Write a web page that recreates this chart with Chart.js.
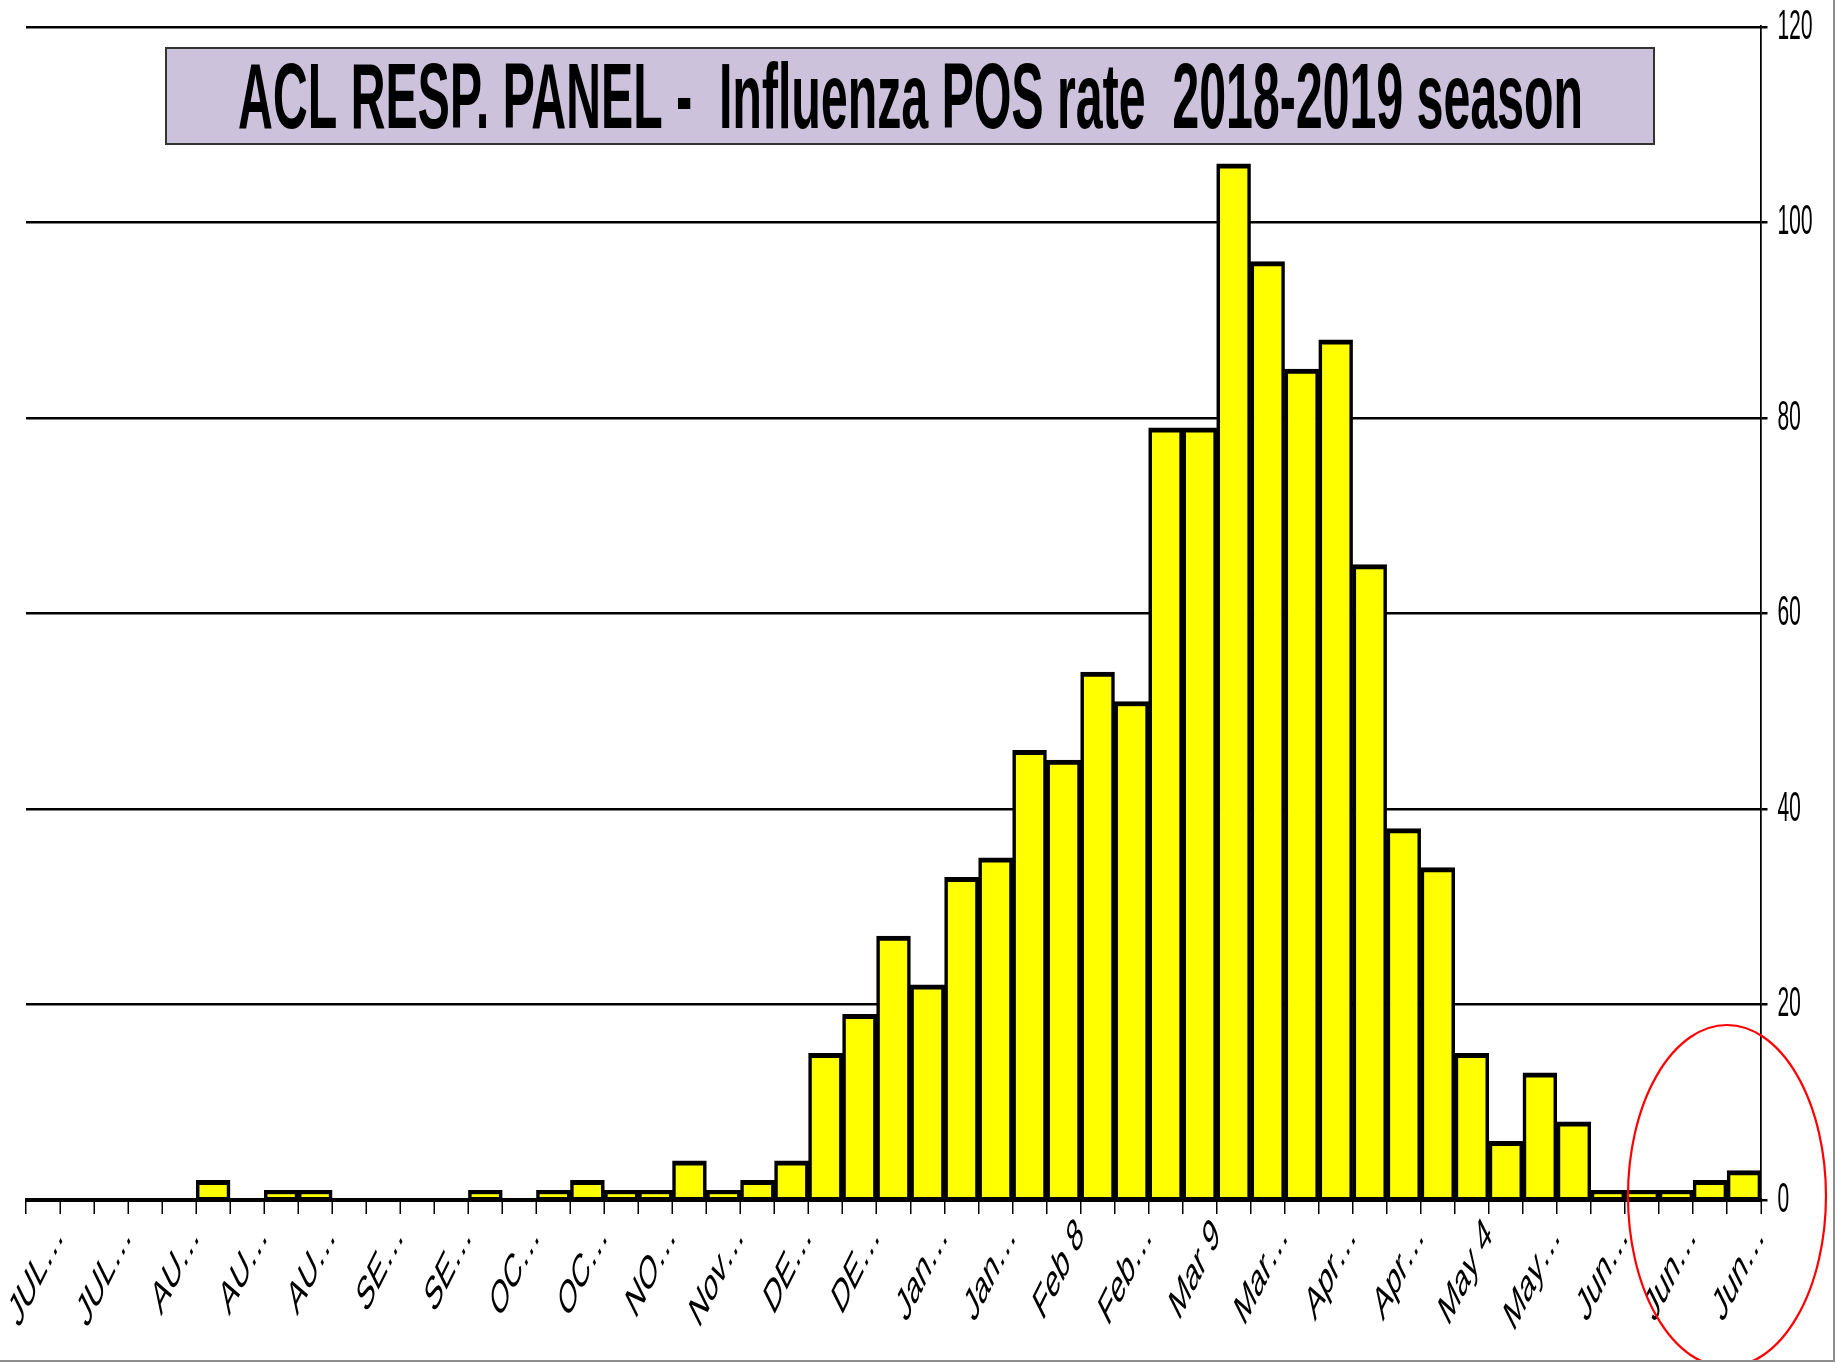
<!DOCTYPE html>
<html>
<head>
<meta charset="utf-8">
<script src="https://cdn.jsdelivr.net/npm/chart.js@4.4.1/dist/chart.umd.min.js"></script>
<style>
  html, body { margin: 0; padding: 0; background: #fff; overflow: hidden; }
  #wrap { position: relative; width: 1835px; height: 1362px; overflow: hidden; }
  #squeeze { position: absolute; left: 0; top: 0; width: 3670px; height: 1362px;
             transform: scaleX(0.5); transform-origin: 0 0; }
  #frame { position: absolute; left: 0; top: 0; width: 1835px; height: 1362px; box-sizing: border-box;
           border-right: 2px solid #8e8e8e; border-bottom: 2px solid #8e8e8e; pointer-events: none; }
</style>
</head>
<body>
<div id="wrap">
  <div id="squeeze"><canvas id="graph" width="3670" height="1362"></canvas></div>
  <div id="frame"></div>
</div>
<script>
// weekly categories, only every other one carries a label
var weekLabels = ['JUL…','','JUL…','','AU…','','AU…','','AU…','','SE…','','SE…','',
    'OC…','','OC…','','NO…','','Nov…','','DE…','','DE…','','Jan…','','Jan…','',
    'Feb 8','','Feb…','','Mar 9','','Mar…','','Apr…','','Apr…','','May 4','',
    'May…','','Jun…','','Jun…','','Jun…'];

var fluPos = [0,0,0,0,0,2,0,1,1,0,0,0,0,1,0,1,2,1,1,4,1,2,4,15,19,27,22,33,35,
    46,45,54,51,79,79,106,96,85,88,65,38,34,15,6,13,8,1,1,1,2,3];

var yTicks = [0, 20, 40, 60, 80, 100, 120];

var chartTitle = 'ACL RESP. PANEL -  Influenza POS rate  2018-2019 season';

// the original picture is squeezed horizontally, so draw wide and squeeze
var K = 0.5;
var FONT = '"Liberation Sans", Arial, sans-serif';

var overlay = {
    id: 'overlay',
    afterDraw: function (chart) {
        var ctx = chart.ctx;
        var xs = chart.scales.x, ys = chart.scales.y;

        // title box (in real page pixels)
        ctx.save();
        ctx.scale(1 / K, 1);
        ctx.fillStyle = '#ccc2dc';
        ctx.fillRect(166, 48, 1488, 96);
        ctx.strokeStyle = '#333';
        ctx.lineWidth = 2;
        ctx.strokeRect(166, 48, 1488, 96);
        ctx.restore();

        // title text, squeezed with the rest
        ctx.save();
        ctx.font = 'bold 92px ' + FONT;
        var w = ctx.measureText(chartTitle).width;
        var target = 1345 / K;
        ctx.translate((238 + 1345 / 2) / K, 128);
        ctx.scale(target / w, 1);
        ctx.fillStyle = '#000';
        ctx.textAlign = 'center';
        ctx.textBaseline = 'alphabetic';
        ctx.fillText(chartTitle, 0, 0);
        ctx.restore();

        // red circle round the last weeks
        ctx.save();
        ctx.scale(1 / K, 1);
        var cx = xs.getPixelForValue(49.5) * K;
        var cy = ys.getPixelForValue(0) - 4;
        ctx.strokeStyle = '#ff0000';
        ctx.lineWidth = 2.2;
        ctx.beginPath();
        ctx.ellipse(cx, cy, 99, 171, 0, 0, Math.PI * 2);
        ctx.stroke();
        ctx.restore();
    }
};

var barGraph = new Chart(document.getElementById('graph'), {
    type: 'bar',
    data: {
        labels: weekLabels,
        datasets: [{
            data: fluPos,
            backgroundColor: '#ffff00',
            borderColor: '#000',
            borderWidth: {top: 5, bottom: 2, left: 7, right: 7},
            borderSkipped: false,
            categoryPercentage: 1,
            barPercentage: 1
        }]
    },
    options: {
        responsive: false,
        animation: false,
        devicePixelRatio: 1,
        layout: {padding: {left: 52, top: 27, right: 0, bottom: 0}},
        plugins: {
            legend: {display: false},
            tooltip: {enabled: false}
        },
        scales: {
            x: {
                grid: {offset: true, drawOnChartArea: false, drawTicks: true, tickLength: 14, color: '#000', lineWidth: 3},
                border: {display: true, color: '#000', width: 4},
                ticks: {
                    autoSkip: false, minRotation: 45, maxRotation: 45,
                    labelOffset: 34, padding: -6, color: '#000',
                    font: {family: FONT, size: 47}
                },
                afterFit: function (s) {
                    s.height = 162;
                    s.paddingLeft = 0; s.paddingRight = 0;
                }
            },
            y: {
                position: 'right',
                min: 0, max: 120,
                afterBuildTicks: function (s) {
                    s.ticks = yTicks.map(function (v) { return {value: v}; });
                },
                ticks: {padding: 20, color: '#000', font: {family: FONT, size: 42}},
                grid: {color: '#000', lineWidth: 2.5, tickLength: 13},
                border: {display: true, color: '#000', width: 3.5},
                afterFit: function (s) {
                    s.width = 148;
                    s.paddingTop = 0; s.paddingBottom = 0;
                }
            }
        }
    },
    plugins: [overlay]
});
</script>
</body>
</html>
